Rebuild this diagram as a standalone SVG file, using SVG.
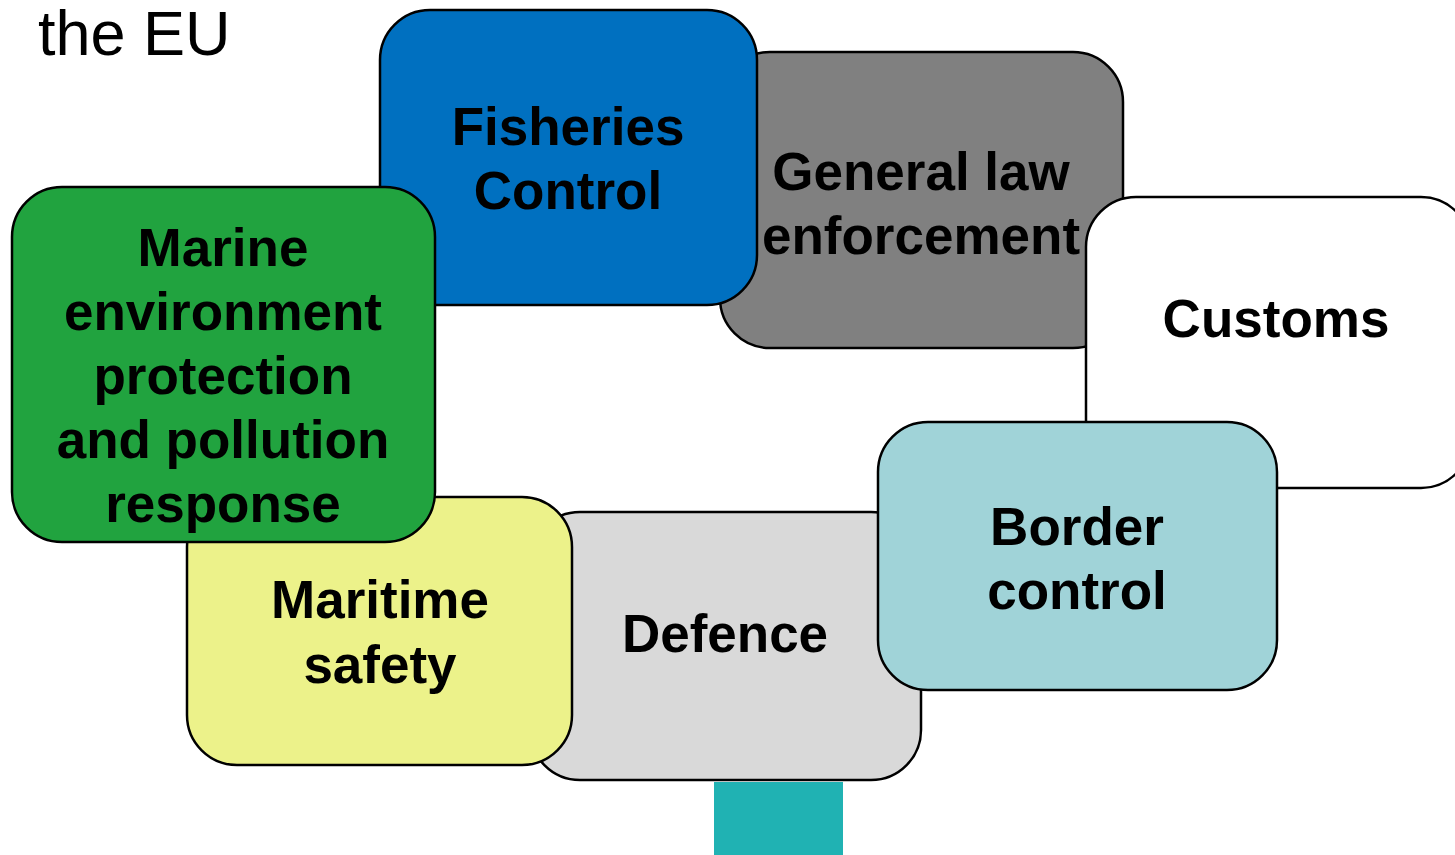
<svg xmlns="http://www.w3.org/2000/svg" width="1455" height="855" viewBox="0 0 1455 855">
<style>
.box{stroke:#000;stroke-width:2.5}
.lbl{font-family:"Liberation Sans",Arial,sans-serif;font-weight:bold;font-size:53px;fill:#000;text-anchor:middle}
.title{font-family:"Liberation Sans",Arial,sans-serif;font-size:63px;fill:#000}
</style>
<rect width="1455" height="855" fill="#fff"/>
<text class="title" x="38" y="55">the EU</text>
<g id="connectors"></g>
<rect id="bar" x="714" y="782" width="129" height="73" fill="#20B2B3"/>
<g id="general">
<rect class="box" x="720" y="52" width="403" height="296" rx="50" fill="#808080"/>
<text class="lbl" x="921" y="190">General law</text>
<text class="lbl" x="921" y="254">enforcement</text>
</g>
<g id="fisheries">
<rect class="box" x="380" y="10" width="377" height="295" rx="50" fill="#0070C0"/>
<text class="lbl" x="568" y="145">Fisheries</text>
<text class="lbl" x="568" y="209">Control</text>
</g>
<g id="customs">
<rect class="box" x="1086" y="197" width="385" height="291" rx="50" fill="#fff"/>
<text class="lbl" x="1276" y="337">Customs</text>
</g>
<g id="defence">
<rect class="box" x="530" y="512" width="391" height="268" rx="50" fill="#D9D9D9"/>
<text class="lbl" x="725" y="652">Defence</text>
</g>
<g id="border">
<rect class="box" x="878" y="422" width="399" height="268" rx="50" fill="#A0D3D8"/>
<text class="lbl" x="1077" y="545">Border</text>
<text class="lbl" x="1077" y="609">control</text>
</g>
<g id="maritime">
<rect class="box" x="187" y="497" width="385" height="268" rx="50" fill="#ECF28A"/>
<text class="lbl" x="380" y="618">Maritime</text>
<text class="lbl" x="380" y="683">safety</text>
</g>
<g id="marine">
<rect class="box" x="12" y="187" width="423" height="355" rx="50" fill="#21A33F"/>
<text class="lbl" x="223" y="266">Marine</text>
<text class="lbl" x="223" y="330">environment</text>
<text class="lbl" x="223" y="394">protection</text>
<text class="lbl" x="223" y="458">and pollution</text>
<text class="lbl" x="223" y="522">response</text>
</g>
</svg>
